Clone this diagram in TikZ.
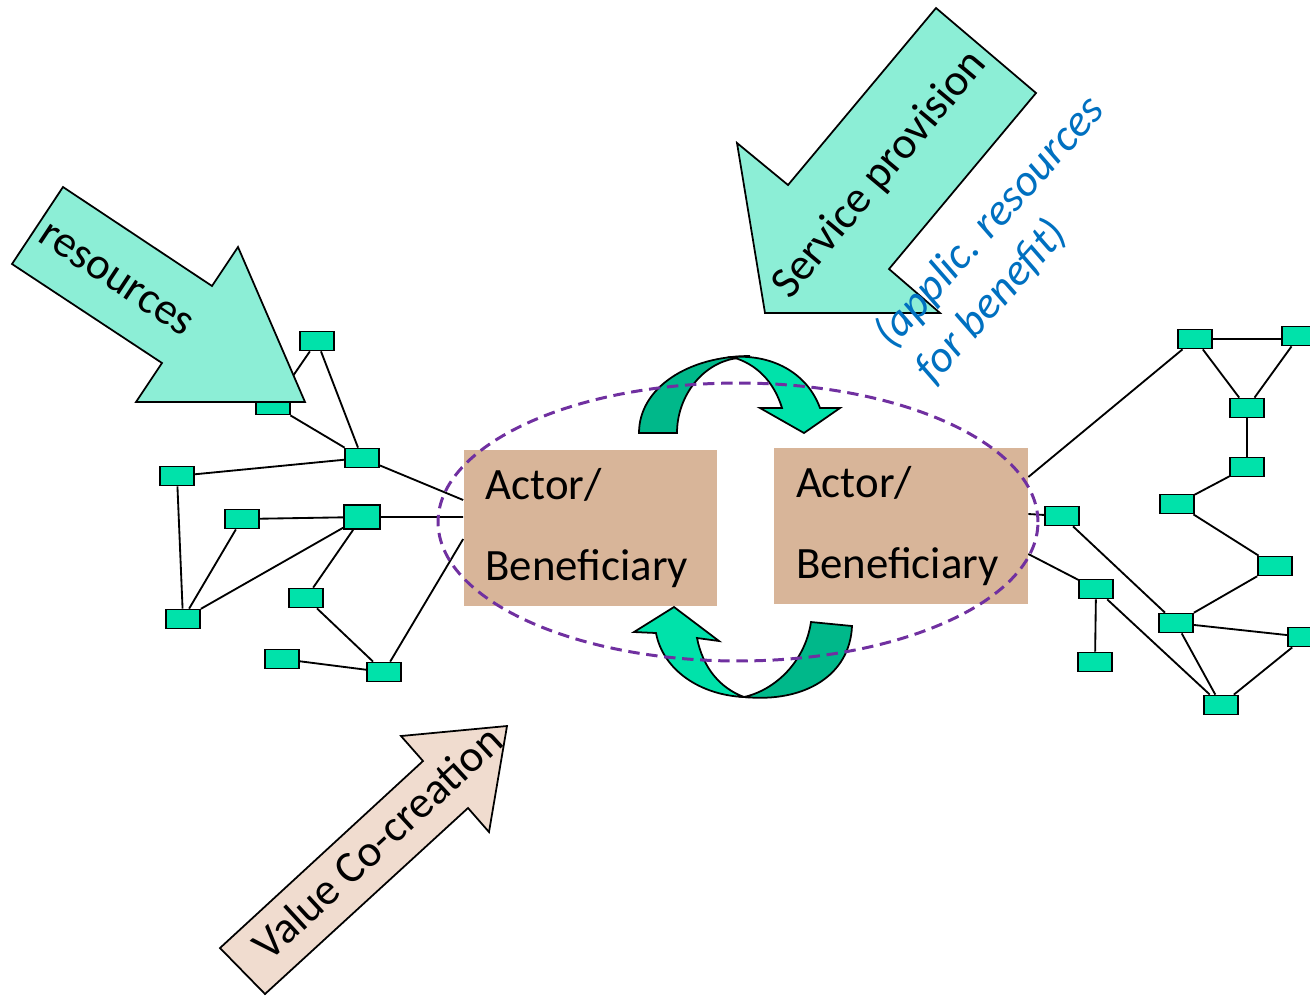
\documentclass[tikz,border=0pt]{standalone}
\usepackage{fontspec}
\setmainfont{Carlito}
\usetikzlibrary{backgrounds}
\definecolor{netgreen}{RGB}{0,226,170}
\definecolor{darkgreen}{RGB}{0,184,138}
\definecolor{actortan}{RGB}{216,181,153}
\definecolor{dotgreen}{RGB}{140,238,214}
\definecolor{dottan}{RGB}{240,220,207}
\definecolor{ringpurple}{RGB}{112,48,160}
\definecolor{noteblue}{RGB}{0,112,192}
\tikzset{
  netbox/.style={draw, line width=1pt, fill=netgreen, minimum width=0.68cm,
    minimum height=0.38cm, inner sep=0pt},
  actor/.style={fill=actortan, text width=4.2cm, minimum height=3.12cm,
    inner xsep=0.44cm, align=left, font=\fontsize{25.5}{46}\selectfont},
  link/.style={line width=1.05pt},
  blockarrow/.style={draw, line width=1pt, line join=miter},
  arrowtext/.style={font=\fontsize{25.5}{30}\selectfont},
}
\begin{document}
\begin{tikzpicture}[x=0.02cm, y=-0.02cm]
  \useasboundingbox (0,0) rectangle (1310,995);

  % Left network
  \foreach \n/\x/\y in {A/317/341, B/273/405, C/362/458, D/177/476,
                        E/242/519, G/306/598, H/183/619, I/282/659, J/384/672} {
    \node[netbox] (\n) at (\x,\y) {};
  }
  \node[netbox, minimum width=0.72cm, minimum height=0.48cm] (F) at (362,517) {};

  % Right network
  \foreach \n/\x/\y in {R1/1195/339, R2/1299/336, R3/1247/408, R4/1247/467,
                        R5/1177/504, R6/1062/516, R7/1275/566, R8/1096/589,
                        R9/1176/623, R10/1305/637, R11/1095/662, R12/1221/705} {
    \node[netbox] (\n) at (\x,\y) {};
  }

  % Actors
  \node[actor] (act1) at (590.5,528) {Actor/\\Beneficiary};
  \node[actor] (act2) at (901,526) {Actor/\\Beneficiary};

  % Links
  \begin{pgfonlayer}{background}
    \foreach \a/\b in {A/B, A/C, B/C, C/D, D/H, E/F, E/H, F/H, F/G, G/J, I/J,
                       R1/R3, R2/R3, R3/R4, R4/R5, R5/R7, R7/R9, R9/R10,
                       R9/R12, R10/R12, R6/R9, R8/R11, R8/R12} {
      \draw[link] (\a) -- (\b);
    }
    \draw[link] (R1.east) -- (R2.west |- R1.east);
    \draw[link] (C) -- ([yshift=0.56cm]act1.west);
    \draw[link] (F) -- ([yshift=0.22cm]act1.west);
    \draw[link] (J) -- ([yshift=-0.22cm]act1.west);
    \draw[link] ([yshift=0.98cm]act2.east) -- (R1);
    \draw[link] ([yshift=0.24cm]act2.east) -- (R6);
    \draw[link] ([yshift=-0.56cm]act2.east) -- (R8);
  \end{pgfonlayer}

  % Curved arrows
  \draw[blockarrow, fill=darkgreen] (639,433) .. controls (639,388) and (688,356) .. (750,356)
    -- (732,359) .. controls (700,366) and (677,398) .. (677,433) -- cycle;
  \draw[blockarrow, fill=netgreen] (732,357) .. controls (775,354) and (808,375) .. (820,408)
    -- (840,408) -- (804,433) -- (760,408) -- (782,408)
    .. controls (774,382) and (757,364) .. (732,357) -- cycle;
  \draw[blockarrow, fill=darkgreen] (811,622) -- (852,626)
    .. controls (850,675) and (805,703) .. (744,697)
    .. controls (775,690) and (805,662) .. (811,622) -- cycle;
  \draw[blockarrow, fill=netgreen] (674,607) -- (719,641) -- (697,638)
    .. controls (703,668) and (720,688) .. (744,697)
    .. controls (700,695) and (663,670) .. (656,633) -- (634,632) -- cycle;

  % Block arrows
  \draw[blockarrow, fill=dotgreen] (63,187) -- (212,286) -- (238,247) -- (305,402)
    -- (136,402) -- (162,363) -- (12,264) -- cycle;
  \node[arrowtext, rotate=-33.5] (restxt) at (116,280) {resources};

  \draw[blockarrow, fill=dotgreen] (936,8) -- (1036,93) -- (889,269) -- (940,313)
    -- (765,313) -- (737,143) -- (788,185) -- cycle;
  \node[arrowtext, rotate=50] (servtxt) at (880,175) {Service provision};

  \draw[blockarrow, fill=dottan] (220,948) -- (423,761) -- (401,736) -- (507,726)
    -- (489,832) -- (468,808) -- (265,994) -- cycle;
  \node[arrowtext, rotate=42.7] (valtxt) at (377,842) {Value Co-creation};

  \node[text=noteblue, rotate=48, align=left,
    font=\fontsize{25.5}{31}\selectfont\itshape] (note) at (1010,240)
    {(applic. resources\\for benefit)};

  % Dashed ring
  \draw[ringpurple, line width=1.7pt, dash pattern=on 6.5pt off 3.8pt]
    (738,522) ellipse [x radius=6cm, y radius=2.78cm];
\end{tikzpicture}
\end{document}
